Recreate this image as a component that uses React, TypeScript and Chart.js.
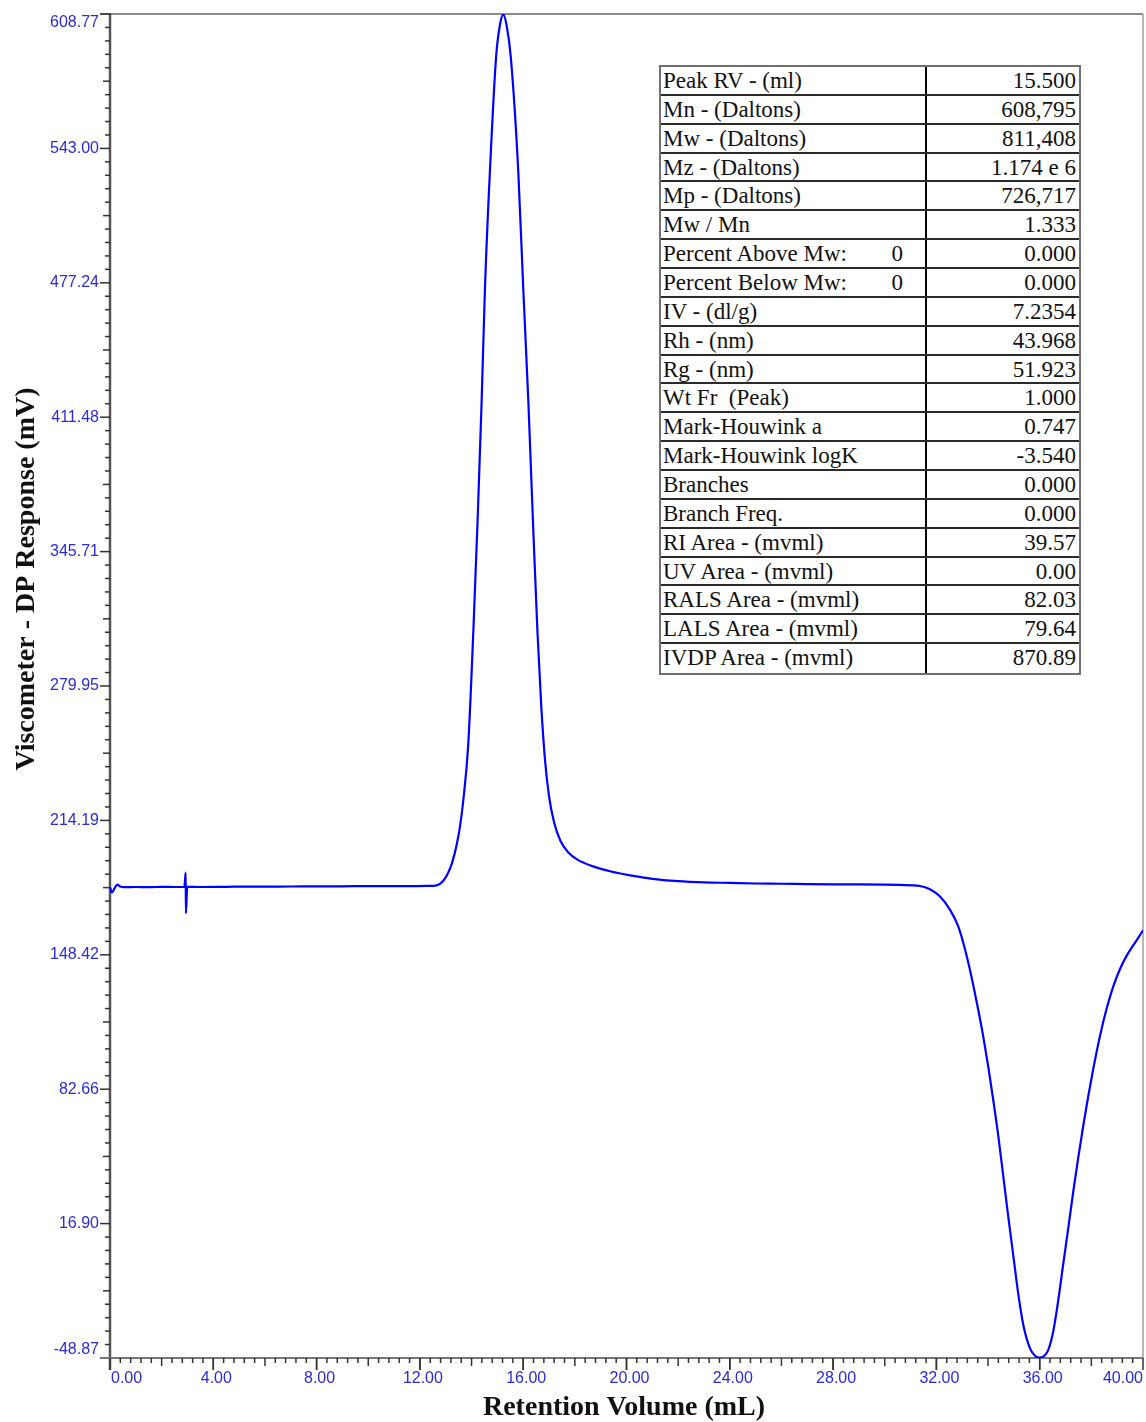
import React, { useEffect, useRef } from 'react';
import { Chart, registerables } from 'chart.js';

Chart.register(...registerables);

// Retention volume (mL) and viscometer DP response (mV)
const retentionVolume = [
  0.0, 0.07, 0.18, 0.28, 0.4, 0.55, 1.0, 1.5, 2.0, 2.5, 2.88, 2.93, 2.94, 2.99,
  3.5, 4.5, 5.5, 6.5, 7.5, 8.5, 9.5, 10.5, 11.5, 12.3, 12.65, 12.9, 13.1, 13.25,
  13.42, 13.55, 13.68, 13.87, 14.07, 14.24, 14.39, 14.52, 14.71, 14.95, 15.1,
  15.23, 15.36, 15.52, 15.81, 16.0, 16.2, 16.37, 16.55, 16.7, 16.85, 17.0, 17.2,
  17.45, 17.75, 18.1, 18.71, 19.4, 20.14, 21.0, 22.0, 23.0, 24.0, 25.0,
  26.0, 27.0, 28.0, 29.0, 30.0, 30.59, 31.36, 31.75, 32.14, 32.53, 32.85, 33.11,
  33.37, 33.62, 33.82, 34.01, 34.2, 34.4, 34.59, 34.78, 34.98, 35.17, 35.37,
  35.62, 35.82, 35.98, 36.14, 36.33, 36.53, 36.72, 36.91, 37.11, 37.3, 37.5,
  37.69, 37.88, 38.08, 38.33, 38.59, 38.85, 39.11, 39.37, 39.62, 39.82, 40.0,
];
const dpResponse = [
  181.5, 178.9, 181.0, 182.8, 181.8, 181.5, 181.6, 181.5, 181.7, 181.6, 181.7,
  188.6, 168.7, 181.7, 181.6, 181.7, 181.8, 181.8, 181.9, 181.9, 182.0, 182.0,
  182.0, 182.1, 182.4, 184.5, 188.7, 193.5, 202.0, 211.0, 224.0, 251.0, 307.0,
  363.0, 419.0, 475.0, 531.5, 587.7, 603.5, 608.5, 603.0, 587.7, 531.5, 475.0,
  419.0, 363.0, 307.0, 270.0, 243.0, 226.0, 213.0, 204.0, 198.5, 195.0, 191.7,
  189.2, 187.3, 185.6, 184.5, 183.9, 183.6, 183.3, 183.2, 183.0, 182.9, 182.9,
  182.8, 182.6, 182.1, 180.5, 176.9, 170.4, 162.2, 151.0, 137.0, 121.5, 108.0,
  93.5, 77.5, 59.5, 40.0, 20.5, 1.0, -17.5, -33.0, -44.0, -47.8, -48.7, -48.2,
  -45.0, -35.5, -20.5, -3.0, 15.0, 32.6, 49.8, 65.0, 79.2, 93.0, 108.5, 122.0,
  133.0, 141.5, 148.0, 153.0, 156.8, 160.4,
];

const yTickValues = [608.77, 543.0, 477.24, 411.48, 345.71, 279.95, 214.19, 148.42, 82.66, 16.9, -48.87];
const yTickLabels = ['608.77', '543.00', '477.24', '411.48', '345.71', '279.95', '214.19', '148.42', '82.66', '16.90', '-48.87'];
const xTickValues = [0, 4, 8, 12, 16, 20, 24, 28, 32, 36, 40];
const xTickLabels = ['0.00', '4.00', '8.00', '12.00', '16.00', '20.00', '24.00', '28.00', '32.00', '36.00', '40.00'];

const xTitle = 'Retention Volume (mL)';
const yTitle = 'Viscometer - DP Response (mV)';

const tableLabels = [
  'Peak RV - (ml)', 'Mn - (Daltons)', 'Mw - (Daltons)', 'Mz - (Daltons)', 'Mp - (Daltons)',
  'Mw / Mn', 'Percent Above Mw:', 'Percent Below Mw:', 'IV - (dl/g)', 'Rh - (nm)', 'Rg - (nm)',
  'Wt Fr  (Peak)', 'Mark-Houwink a', 'Mark-Houwink logK', 'Branches', 'Branch Freq.',
  'RI Area - (mvml)', 'UV Area - (mvml)', 'RALS Area - (mvml)', 'LALS Area - (mvml)', 'IVDP Area - (mvml)',
];
const tableNotes = ['', '', '', '', '', '', '0', '0', '', '', '', '', '', '', '', '', '', '', '', '', ''];
const tableValues = [
  '15.500', '608,795', '811,408', '1.174 e 6', '726,717', '1.333', '0.000', '0.000', '7.2354',
  '43.968', '51.923', '1.000', '0.747', '-3.540', '0.000', '0.000', '39.57', '0.00', '82.03',
  '79.64', '870.89',
];

const axesPlugin = {
  id: 'gpcAxes',
  beforeDatasetsDraw(chart: any) {
    const ctx = chart.ctx;
    const xs = chart.scales.x;
    const ys = chart.scales.y;
    const { left, right, top, bottom } = chart.chartArea;
    ctx.save();

    // frame: top and right
    ctx.strokeStyle = '#8a8a8a';
    ctx.lineWidth = 2;
    ctx.beginPath();
    ctx.moveTo(left - 10, top);
    ctx.lineTo(right, top);
    ctx.stroke();
    ctx.strokeStyle = '#a0a0a0';
    ctx.lineWidth = 1.5;
    ctx.beginPath();
    ctx.moveTo(right, top);
    ctx.lineTo(right, bottom);
    ctx.stroke();

    // y axis line
    ctx.strokeStyle = '#555';
    ctx.lineWidth = 2.5;
    ctx.beginPath();
    ctx.moveTo(left, top - 1);
    ctx.lineTo(left, bottom + 12);
    ctx.stroke();
    // x axis line
    ctx.strokeStyle = '#777';
    ctx.lineWidth = 2;
    ctx.beginPath();
    ctx.moveTo(left - 10, bottom);
    ctx.lineTo(right, bottom);
    ctx.stroke();

    // ticks
    ctx.strokeStyle = '#333';
    ctx.lineWidth = 1.5;
    for (let i = 0; i < yTickValues.length - 1; i++) {
      const a = yTickValues[i];
      const b = yTickValues[i + 1];
      for (let k = 0; k < 10; k++) {
        const v = a + ((b - a) * k) / 10;
        const py = ys.getPixelForValue(v);
        const len = k === 0 ? 10 : k === 5 ? 7 : 5;
        ctx.beginPath();
        ctx.moveTo(left - len, py);
        ctx.lineTo(left, py);
        ctx.stroke();
      }
    }
    for (let i = 0; i < xTickValues.length - 1; i++) {
      const a = xTickValues[i];
      const b = xTickValues[i + 1];
      for (let k = 0; k <= 10; k++) {
        const v = a + ((b - a) * k) / 10;
        const px = xs.getPixelForValue(v);
        const len = k === 0 || k === 10 ? 12 : k === 5 ? 8 : 5;
        ctx.beginPath();
        ctx.moveTo(px, bottom);
        ctx.lineTo(px, bottom + len);
        ctx.stroke();
      }
    }

    // tick labels
    ctx.fillStyle = '#2b2bd6';
    ctx.font = '16px "Liberation Sans", Arial, sans-serif';
    ctx.textAlign = 'right';
    ctx.textBaseline = 'middle';
    yTickValues.forEach((v, i) => {
      let py = ys.getPixelForValue(v);
      if (i === 0) py += 9;
      if (i === yTickValues.length - 1) py -= 8;
      ctx.fillText(yTickLabels[i], left - 11, py);
    });
    xTickValues.forEach((v, i) => {
      const px = xs.getPixelForValue(v);
      if (i === 0) {
        ctx.textAlign = 'left';
        ctx.fillText(xTickLabels[i], px + 1, bottom + 21);
      } else if (i === xTickValues.length - 1) {
        ctx.textAlign = 'right';
        ctx.fillText(xTickLabels[i], px, bottom + 21);
      } else {
        ctx.textAlign = 'center';
        ctx.fillText(xTickLabels[i], px + 3, bottom + 21);
      }
    });

    // titles
    ctx.fillStyle = '#111';
    ctx.font = 'bold 28px "Liberation Serif", "Times New Roman", serif';
    ctx.textAlign = 'center';
    ctx.textBaseline = 'middle';
    ctx.fillText(xTitle, 624, 1408);
    ctx.translate(27, 579);
    ctx.rotate(-Math.PI / 2);
    ctx.fillText(yTitle, 0, 0);
    ctx.restore();
  },
};

export default function App() {
  const canvasRef = useRef<HTMLCanvasElement | null>(null);

  useEffect(() => {
    document.body.style.margin = '0';
    const canvas = canvasRef.current;
    if (!canvas) return;
    const points = retentionVolume.map((x, i) => ({ x, y: dpResponse[i] }));
    const chart = new Chart(canvas, {
      type: 'line',
      data: {
        datasets: [
          {
            data: points,
            borderColor: '#0000ff',
            borderWidth: 2.2,
            pointRadius: 0,
            fill: false,
            cubicInterpolationMode: 'monotone',
          },
        ],
      },
      options: {
        responsive: false,
        animation: false,
        devicePixelRatio: 1,
        layout: { padding: { top: 14, right: 3, left: 0, bottom: 0 } },
        plugins: { legend: { display: false }, tooltip: { enabled: false } },
        scales: {
          x: {
            type: 'linear',
            min: 0,
            max: 40,
            grid: { display: false },
            border: { display: false },
            ticks: { display: false },
            afterFit: (s: any) => {
              s.height = 64;
            },
          },
          y: {
            type: 'linear',
            min: -48.87,
            max: 608.77,
            grid: { display: false },
            border: { display: false },
            ticks: { display: false },
            afterFit: (s: any) => {
              s.width = 110;
            },
          },
        },
      } as any,
      plugins: [axesPlugin],
    });
    return () => chart.destroy();
  }, []);

  const rowH = 28.86;
  return (
    <div style={{ position: 'relative', width: 1146, height: 1422, background: '#fff', overflow: 'hidden' }}>
      <canvas ref={canvasRef} width={1146} height={1422} style={{ position: 'absolute', left: 0, top: 0, width: 1146, height: 1422 }} />
      <div
        style={{
          position: 'absolute',
          left: 659,
          top: 65,
          width: 422,
          border: '2px solid #707070',
          boxSizing: 'border-box',
          background: '#fff',
          fontFamily: '"Liberation Serif", "Times New Roman", serif',
          fontSize: 23,
          color: '#111',
        }}
      >
        {tableLabels.map((lab, i) => (
          <div
            key={i}
            style={{
              display: 'flex',
              height: rowH,
              boxSizing: 'border-box',
              borderBottom: i < tableLabels.length - 1 ? '2px solid #2a2a2a' : 'none',
              lineHeight: '27px',
            }}
          >
            <div
              style={{
                width: 266,
                borderRight: '2px solid #000',
                position: 'relative',
                paddingLeft: 2,
                whiteSpace: 'pre',
                boxSizing: 'border-box',
              }}
            >
              {lab}
              {tableNotes[i] ? <span style={{ position: 'absolute', right: 22, top: 0 }}>{tableNotes[i]}</span> : null}
            </div>
            <div style={{ flex: 1, textAlign: 'right', paddingRight: 3, whiteSpace: 'pre' }}>{tableValues[i]}</div>
          </div>
        ))}
      </div>
    </div>
  );
}
